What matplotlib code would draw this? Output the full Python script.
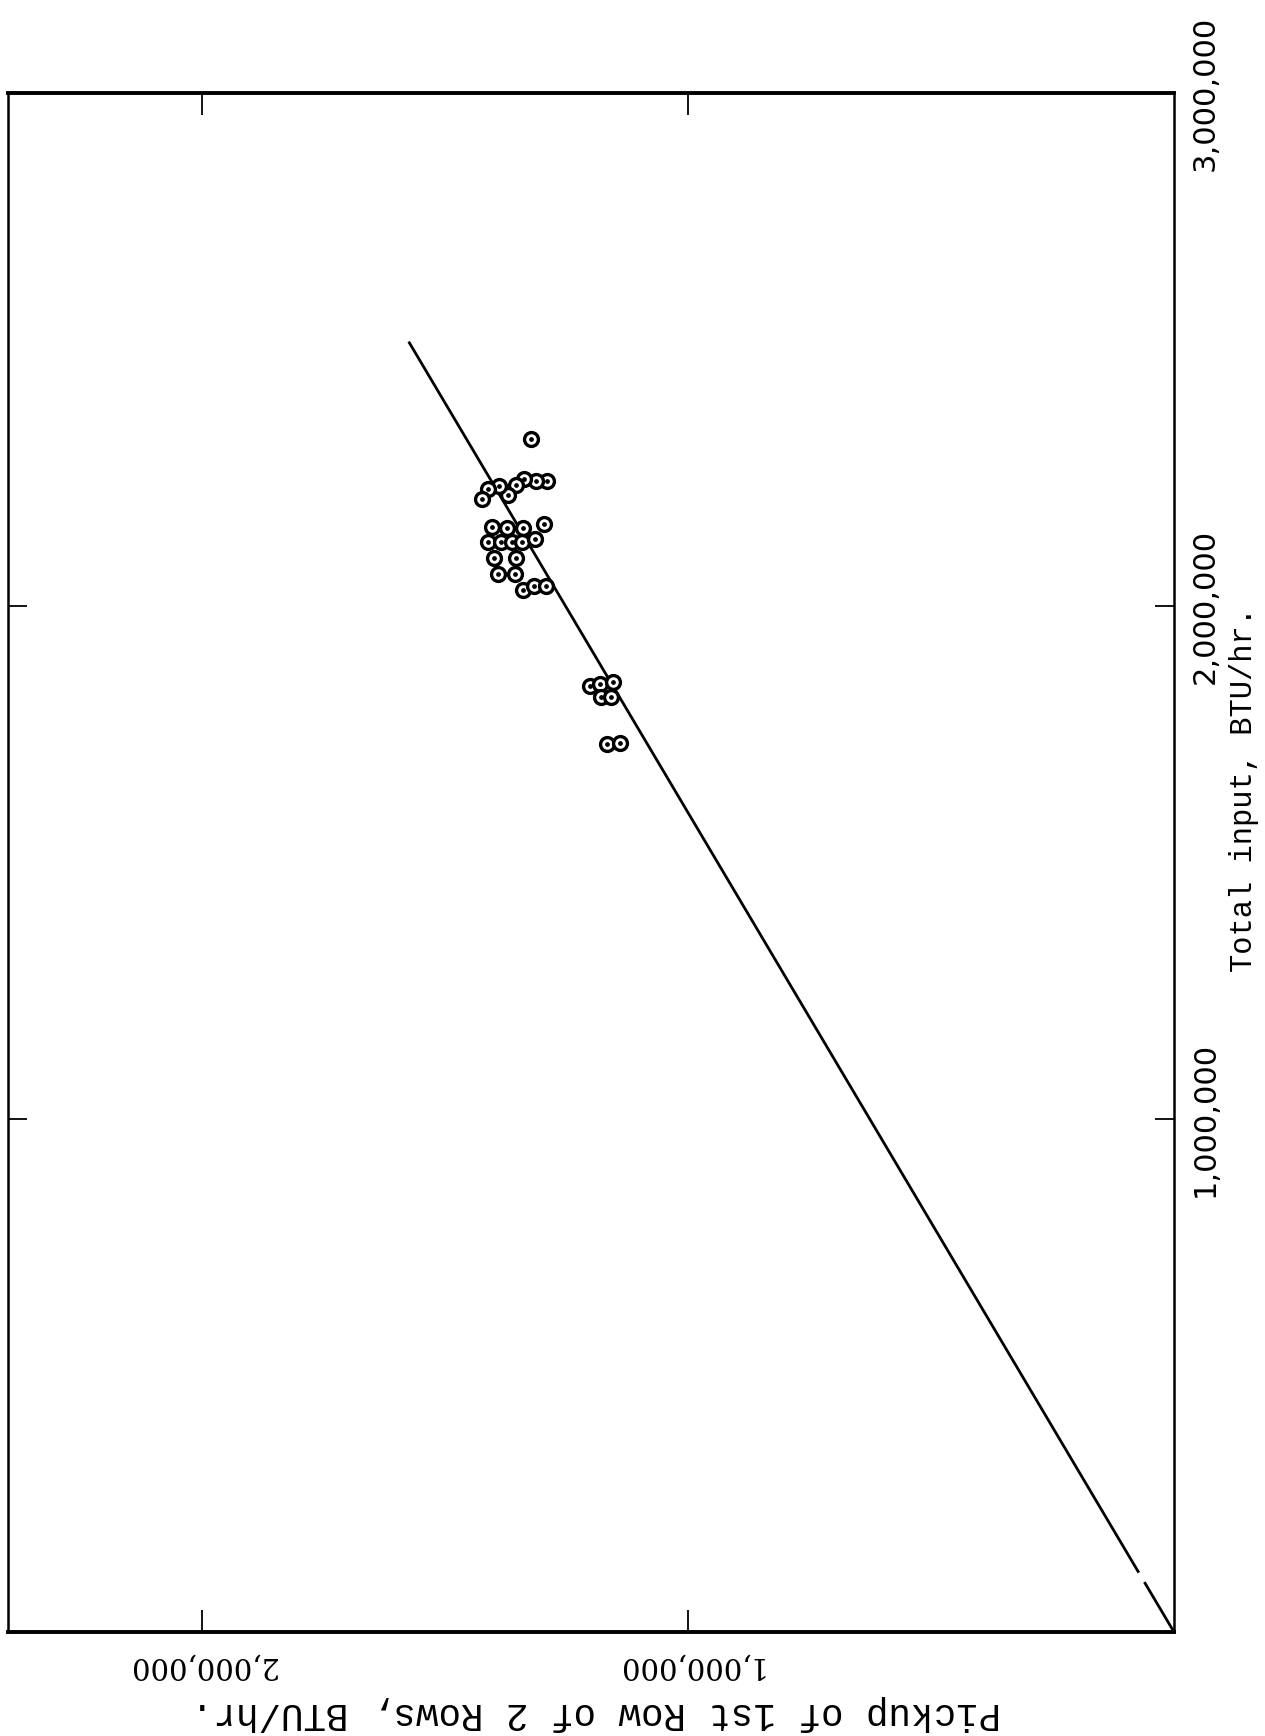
import numpy as np
import matplotlib
matplotlib.use("Agg")
import matplotlib.pyplot as plt

# test points: total input vs. pickup of first row (BTU/hr)
total_input = [2.326e6, 2.244e6, 2.244e6, 2.248e6, 2.236e6, 2.216e6, 2.234e6,
               2.228e6, 2.209e6, 2.160e6, 2.154e6, 2.152e6, 2.152e6, 2.125e6,
               2.125e6, 2.125e6, 2.125e6, 2.131e6, 2.094e6, 2.094e6, 2.062e6,
               2.062e6, 2.031e6, 2.039e6, 2.039e6,
               1.844e6, 1.848e6, 1.852e6, 1.823e6, 1.823e6, 1.731e6, 1.733e6]
pickup = [1.323e6, 1.290e6, 1.313e6, 1.337e6, 1.354e6, 1.370e6, 1.389e6,
          1.412e6, 1.424e6, 1.296e6, 1.403e6, 1.372e6, 1.340e6, 1.412e6,
          1.385e6, 1.362e6, 1.342e6, 1.315e6, 1.399e6, 1.354e6, 1.391e6,
          1.356e6, 1.340e6, 1.317e6, 1.292e6,
          1.202e6, 1.181e6, 1.154e6, 1.179e6, 1.158e6, 1.167e6, 1.140e6]

# fitted line through the origin
fit_slope = 0.626
fit_total = np.array([0.0, 0.095e6, 0.118e6, 2.513e6])

x_ticks = [1e6, 2e6]
x_labels = ["1,000,000", "2,000,000"]
y_ticks = [1e6, 2e6, 3e6]
y_labels = ["1,000,000", "2,000,000", "3,000,000"]

W, H = 1265, 1736
fig = plt.figure(figsize=(W / 100, H / 100), dpi=100)
ax = fig.add_axes([8 / W, 1 - 1632 / H, (1174 - 8) / W, (1632 - 93) / H])

mono = "Liberation Mono"

# the sheet is turned on its side: total input runs up, pickup runs left
fit_pick = fit_slope * fit_total
ax.plot(fit_pick[:2], fit_total[:2], color="black", lw=2.0)
ax.plot(fit_pick[2:], fit_total[2:], color="black", lw=2.0)
ax.plot(pickup, total_input, linestyle="none", marker="o", ms=10,
        mfc="white", mec="black", mew=2.4, zorder=3)
ax.plot(pickup, total_input, linestyle="none", marker="o", ms=2.4,
        color="black", zorder=4)

ax.set_xlim(2.399e6, 0)
ax.set_ylim(0, 3e6)

ax.set_xticks(x_ticks)
ax.set_xticklabels(x_labels, rotation=180, fontsize=21, family="DejaVu Serif")
ax.set_yticks(y_ticks)
ax.set_yticklabels(y_labels, rotation=90, fontsize=22, family="DejaVu Sans",
                   va="center")
ax.tick_params(axis="x", direction="in", length=16, width=1.3,
               top=True, bottom=True, pad=14)
ax.tick_params(axis="y", direction="in", length=14, width=1.3,
               left=True, right=True, labelleft=False, labelright=True,
               pad=12)

for side in ("left", "right"):
    ax.spines[side].set_linewidth(1.8)
for side in ("top", "bottom"):
    ax.spines[side].set_linewidth(2.8)

fig.text(596 / W, 1 - 1713 / H, "Pickup of 1st Row of 2 Rows, BTU/hr.",
         rotation=180, ha="center", va="center", fontsize=27, family=mono)
fig.text(1244 / W, 1 - 790 / H, "Total input, BTU/hr.",
         rotation=90, ha="center", va="center", fontsize=22, family=mono)

fig.savefig("out.png", dpi=100)
